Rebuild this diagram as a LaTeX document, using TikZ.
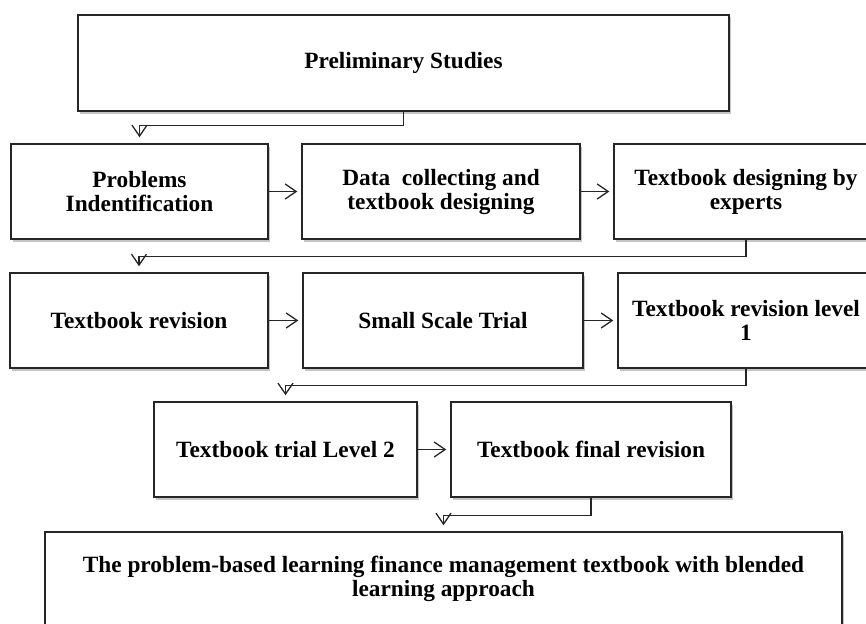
\documentclass[tikz,border=0pt]{standalone}
\usepackage{fontspec}
\setmainfont{Liberation Serif}
\usetikzlibrary{arrows.meta,shadows,calc}
\begin{document}
\begin{tikzpicture}[x=1pt,y=-1pt,
  box/.style={draw=black!85, line width=1.4pt, fill=white, rectangle, inner sep=0pt,
    align=center, font=\fontsize{23.3}{24}\selectfont\bfseries,
    drop shadow={shadow xshift=1.5pt, shadow yshift=-2.5pt, fill=black!45, opacity=0.5}},
  conn/.style={draw=black!85, line width=1.3pt, -{Straight Barb[length=11pt,width=15pt]}},
]
\useasboundingbox (0,0) rectangle (866,623);
\clip (0,0) rectangle (866,623);

\node[box, minimum width=651pt, minimum height=96pt] (top) at (403.5,63) {Preliminary Studies};

\node[box, minimum width=257pt, minimum height=95pt] (r1a) at (139.5,191.5) {Problems\\Indentification};
\node[box, minimum width=278pt, minimum height=95pt] (r1b) at (441,191.5) {Data~~collecting and\\textbook designing};
\node[box, minimum width=264pt, minimum height=95pt] (r1c) at (746,191.5) {Textbook designing by\\experts};

\node[box, minimum width=258pt, minimum height=95pt] (r2a) at (139,320.5) {Textbook revision};
\node[box, minimum width=280pt, minimum height=95pt] (r2b) at (443,320.5) {Small Scale Trial};
\node[box, minimum width=256pt, minimum height=95pt] (r2c) at (746,320.5) {Textbook revision level\\1};

\node[box, minimum width=263pt, minimum height=95pt] (r3a) at (285.5,449.5) {Textbook trial Level 2};
\node[box, minimum width=280pt, minimum height=95pt] (r3b) at (591,449.5) {Textbook final revision};

\node[box, minimum width=797pt, minimum height=94pt] (fin) at (443.5,579) {The problem-based learning finance management textbook with blended\\learning approach};

\draw[conn] (top.south) -- ++(0,14) -| ([yshift=6pt]r1a.north);
\draw[conn] (r1a.east) -- ([xshift=-4pt]r1b.west);
\draw[conn] (r1b.east) -- ([xshift=-4pt]r1c.west);
\draw[conn] (r1c.south) -- ++(0,17) -| ([yshift=6pt]r2a.north);
\draw[conn] (r2a.east) -- ([xshift=-4pt]r2b.west);
\draw[conn] (r2b.east) -- ([xshift=-4pt]r2c.west);
\draw[conn] (r2c.south) -- ++(0,17) -| ([yshift=6pt]r3a.north);
\draw[conn] (r3a.east) -- ([xshift=-4pt]r3b.west);
\draw[conn] (r3b.south) -- ++(0,18) -| ([yshift=6pt]fin.north);
\end{tikzpicture}
\end{document}
